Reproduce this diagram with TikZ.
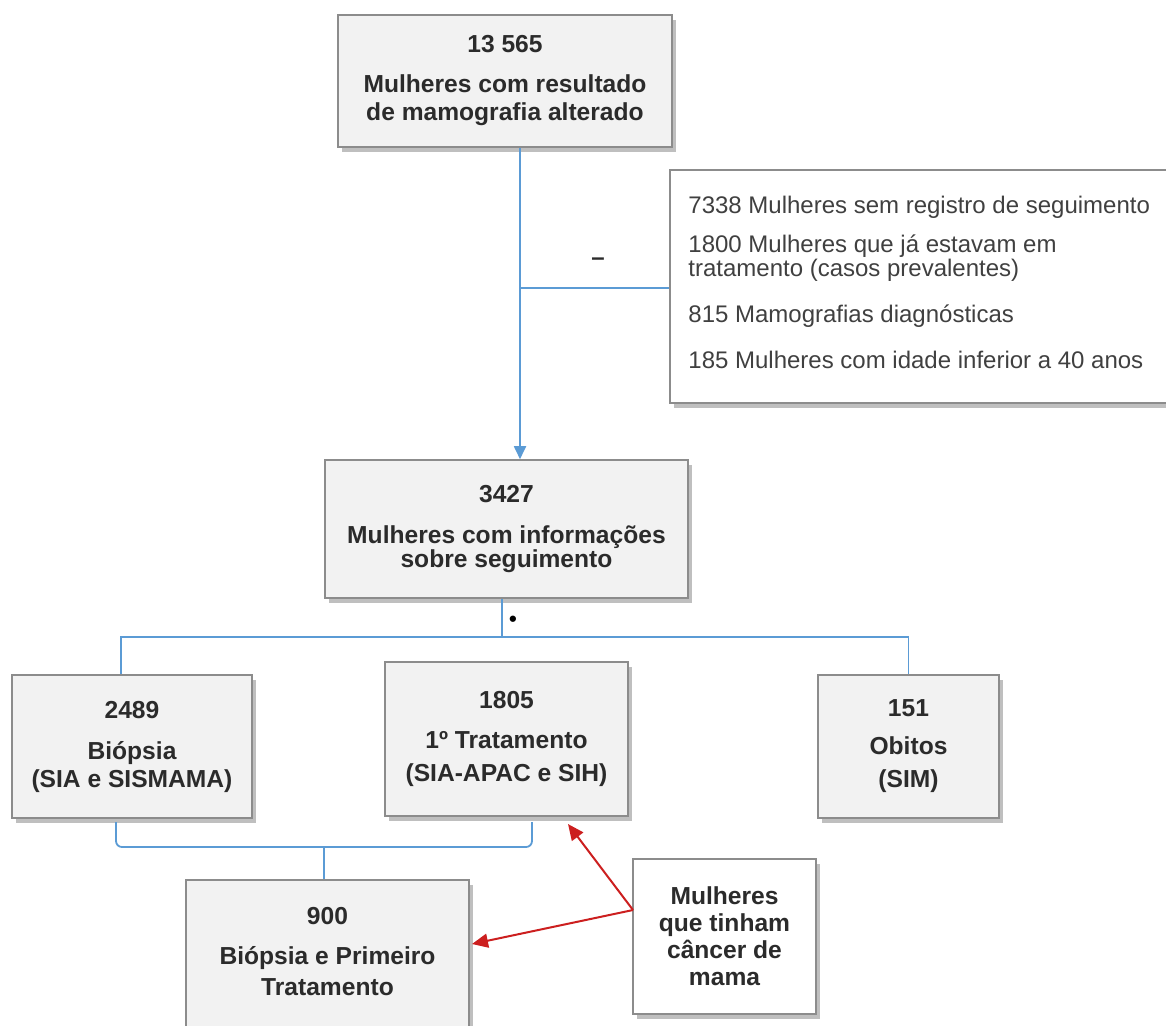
\documentclass[tikz,border=0pt]{standalone}
\usepackage{fontspec}
\setmainfont{Liberation Sans}
\usetikzlibrary{arrows.meta,shadows}
\definecolor{boxfill}{HTML}{F2F2F2}
\definecolor{boxdraw}{HTML}{8C8C8C}
\definecolor{linkblue}{HTML}{5B9BD5}
\definecolor{arrred}{HTML}{CC1F1F}
\definecolor{txt}{HTML}{2B2B2B}
\tikzset{
  gbox/.style={draw=boxdraw, line width=0.8pt, fill=boxfill, inner sep=0pt, align=center,
    text=txt, font=\fontsize{12.3}{14}\selectfont\bfseries,
    drop shadow={shadow xshift=2pt, shadow yshift=-2.5pt, fill=black!50, opacity=0.5}},
  wbox/.style={gbox, fill=white},
  blueline/.style={draw=linkblue, line width=0.9pt},
  redarrow/.style={draw=arrred, line width=1pt, -{Triangle[length=8pt,width=7pt]}},
  extxt/.style={anchor=west, inner sep=0pt, align=left, text=txt!90, font=\fontsize{12}{12}\selectfont},
}
\begin{document}
\begin{tikzpicture}[x=0.5pt,y=-0.5pt]
\useasboundingbox (0,0) rectangle (1166,1025);
\clip (0,0) rectangle (1166,1025);
% boxes
\node[gbox, minimum width=167pt, minimum height=66pt] (b1) at (505,81)
  {13 565\\[6pt] Mulheres com resultado\\[0pt] de mamografia alterado};
\node[wbox, minimum width=251pt, minimum height=116.5pt] (excl) at (921,286.5) {};
\node[gbox, minimum width=181.5pt, minimum height=69pt] (b2) at (506.5,529)
  {3427\\[6.5pt] Mulheres com informações\\[-2pt] sobre seguimento};
\node[gbox, minimum width=120pt, minimum height=71.5pt] (b3) at (132,746.5)
  {2489\\[6.5pt] Biópsia\\[0pt] (SIA e SISMAMA)};
\node[gbox, minimum width=121.5pt, minimum height=77pt] (b4) at (506.5,739)
  {1805\\[6pt] 1º Tratamento\\[2.5pt] (SIA-APAC e SIH)};
\node[gbox, minimum width=90.5pt, minimum height=71.5pt] (b5) at (908.5,746.5)
  {151\\[5pt] Obitos\\[2.5pt] (SIM)};
\node[gbox, minimum width=141.5pt, minimum height=80pt] (b6) at (327.5,960) {};
\node[inner sep=0pt, align=center, text=txt, font=\fontsize{12.3}{14}\selectfont\bfseries] (b6t) at (327.5,952)
  {900\\[6pt] Biópsia e Primeiro\\[1.5pt] Tratamento};
\node[wbox, minimum width=91.5pt, minimum height=77.5pt] (b7) at (724.5,936.5)
  {Mulheres\\[-0.5pt] que tinham\\[-0.5pt] câncer de\\[-0.5pt] mama};
% exclusion texts
\node[extxt] (e1) at (688,207) {7338 Mulheres sem registro de seguimento};
\node[extxt] (e2) at (688,258) {1800 Mulheres que já estavam em\\ tratamento (casos prevalentes)};
\node[extxt] (e3) at (688,316) {815 Mamografias diagnósticas};
\node[extxt] (e4) at (688,360) {185 Mulheres com idade inferior a 40 anos};
% connectors
\coordinate (j1) at (520,288);
\draw[blueline, -{Triangle[length=6.5pt,width=6pt]}] (b1.south -| j1) -- (b2.north -| j1);
\draw[blueline] (j1) -- (excl.west |- j1);
\node[text=txt, font=\fontsize{12}{12}\selectfont\bfseries] (minus) at (598,262) {–};
\coordinate (j2) at (502,637);
\coordinate (l3) at (121,675);
\draw[blueline] (b2.south -| j2) -- (j2);
\draw[blueline] (b3.north -| l3) |- (j2) -| (b5.north);
\node[text=black, font=\fontsize{11}{12}\selectfont\bfseries] (dot) at (513,621) {•};
% bracket
\coordinate (bl) at (116,822);
\coordinate (br) at (532,822);
\coordinate (bm) at (324,847);
\draw[blueline, rounded corners=3pt] (bl) |- (bm) -| (br);
\draw[blueline] (bm) -- (b6.north -| bm);
% red arrows
\coordinate (rs) at (633,910);
\coordinate (ra1) at (568,824);
\coordinate (ra2) at (472,944);
\draw[redarrow] (rs) -- (ra1);
\draw[redarrow] (rs) -- (ra2);
\end{tikzpicture}
\end{document}
